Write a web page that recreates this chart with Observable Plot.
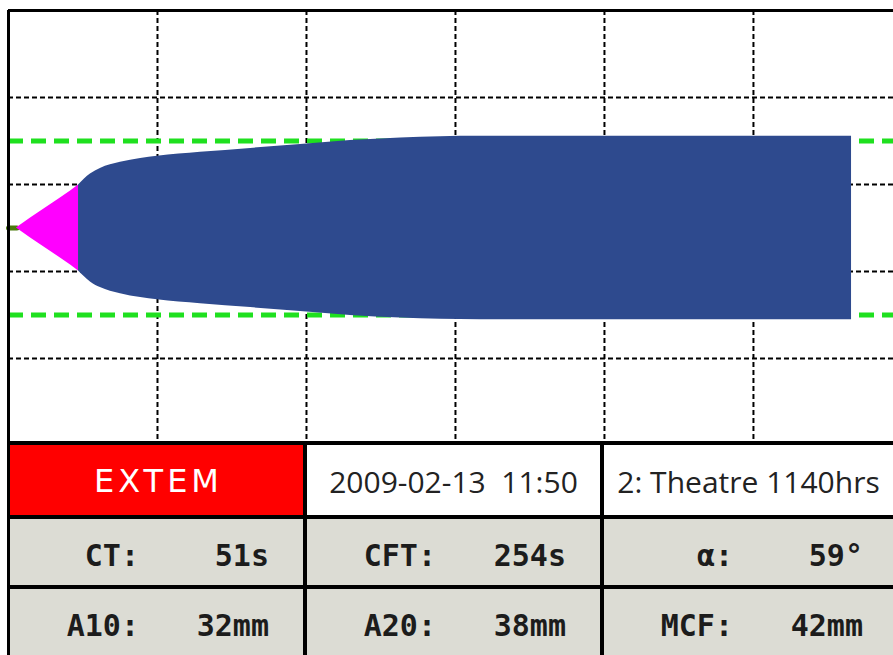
<!DOCTYPE html>
<html>
<head>
<meta charset="utf-8">
<script src="https://cdn.jsdelivr.net/npm/d3@7"></script>
<script src="https://cdn.jsdelivr.net/npm/@observablehq/plot@0.6"></script>
<style>
  html, body { margin: 0; padding: 0; background: #fff; }
  #wrap { position: relative; width: 893px; height: 655px; overflow: hidden; background: #fff; }
  #chart { position: absolute; left: 0; top: 0; }
  #table { position: absolute; left: 7px; top: 441px; width: 886px; height: 214px; background: #000; }
  .cell { position: absolute; overflow: hidden; }
  .head { font-family: "Open Sans", sans-serif; font-size: 30px; line-height: 30px; color: #222; text-align: center; white-space: pre; }
  .mono { position: absolute; font-family: "DejaVu Sans Mono", monospace; font-weight: bold; font-size: 30px; line-height: 30px; color: #1c1c1c; text-align: right; white-space: pre; }
</style>
</head>
<body>
<div id="wrap">
  <div id="chart"></div>
  <div id="table"></div>
</div>
<script>
// ---- trace data (time in seconds, half-amplitude in mm) ----
const baselineTime = [0, 34];
const baselineAmp = [0, 0];

const cfTime = [32, 89, 149, 209, 250, 282];
const cfAmp  = [0, 2.3, 4.6, 6.9, 8.5, 9.9];

const clotTime = [282, 330, 370, 451, 532, 600, 773, 975, 1176, 1377, 1579, 1901, 2384, 3395];
const clotAmp  = [9.9, 12.4, 13.7, 15.1, 16.0, 16.5, 17.4, 18.3, 19.2, 20.1, 20.7, 21.1, 21.1, 21.1];

// grid and reference lines
const gridTimes = [600, 1200, 1800, 2400, 3000];
const gridAmps = [-30, -10, 10, 30];
const refAmps = [-20, 20];

// ---- table texts ----
const headerTexts = ["EXTEM", "2009-02-13  11:50", "2: Theatre 1140hrs"];
const paramLabels = [["CT:", "CFT:", "α:"], ["A10:", "A20:", "MCF:"]];
const paramValues = [["51s", "254s", "59°"], ["32mm", "38mm", "42mm"]];

const baseline = baselineTime.map((t, i) => ({t, a: baselineAmp[i]}));
const cf = cfTime.map((t, i) => ({t, a: cfAmp[i]}));
const clot = clotTime.map((t, i) => ({t, a: clotAmp[i]}));

const chart = Plot.plot({
  width: 893,
  height: 445,
  marginLeft: 8,
  marginRight: 0,
  marginTop: 10,
  marginBottom: 0,
  x: {domain: [0, 3564], axis: null},
  y: {domain: [-50, 50], axis: null},
  style: {background: "#fff"},
  marks: [
    Plot.gridX(gridTimes, {stroke: "#000", strokeOpacity: 1, strokeWidth: 2, strokeDasharray: "5,3"}),
    Plot.gridY(gridAmps, {stroke: "#000", strokeOpacity: 1, strokeWidth: 2, strokeDasharray: "5,3"}),
    Plot.ruleY(refAmps, {stroke: "#1fe01f", strokeWidth: 5, strokeDasharray: "15,8"}),
    Plot.line(baseline, {x: "t", y: "a", stroke: "#4a7a0c", strokeWidth: 5}),
    Plot.areaY(cf, {x: "t", y1: d => -d.a, y2: d => d.a, fill: "#ff00ff", curve: "monotone-x"}),
    Plot.areaY(clot, {x: "t", y1: d => -d.a, y2: d => d.a, fill: "#2e4a8e", curve: "monotone-x"}),
    Plot.ruleX([0], {stroke: "#000", strokeWidth: 3}),
    Plot.ruleY([50], {stroke: "#000", strokeWidth: 3})
  ]
});
document.getElementById("chart").appendChild(chart);

// ---- table ----
const table = document.getElementById("table");
const colX = [3, 300, 597];       // relative to table left (7px)
const colW = [293, 293, 289];
const rowY = [4, 78, 148];        // relative to table top (441px)
const rowH = [70, 66, 66];

headerTexts.forEach((txt, c) => {
  const d = document.createElement("div");
  d.className = "cell head";
  Object.assign(d.style, {left: colX[c] + "px", top: rowY[0] + "px", width: colW[c] + "px", height: rowH[0] + "px",
    background: c === 0 ? "#ff0000" : "#ffffff"});
  const s = document.createElement("div");
  s.textContent = txt;
  Object.assign(s.style, {position: "absolute", left: "0", width: "100%", top: "22px"});
  if (c === 0) {
    s.style.color = "#fff";
    s.style.fontFamily = "'DejaVu Sans', sans-serif";
    s.style.fontSize = "32px";
    s.style.lineHeight = "32px";
    s.style.letterSpacing = "4px";
    s.style.textIndent = "4px";
    s.style.top = "20px";
  }
  d.appendChild(s);
  table.appendChild(d);
});

for (let r = 0; r < 2; r++) {
  for (let c = 0; c < 3; c++) {
    const d = document.createElement("div");
    d.className = "cell";
    Object.assign(d.style, {left: colX[c] + "px", top: rowY[r + 1] + "px", width: colW[c] + "px", height: rowH[r + 1] + "px", background: "#dcdcd4"});
    const l = document.createElement("div");
    l.className = "mono";
    l.textContent = paramLabels[r][c];
    Object.assign(l.style, {left: "0", width: "129px", top: "22px"});
    const v = document.createElement("div");
    v.className = "mono";
    v.textContent = paramValues[r][c];
    Object.assign(v.style, {left: "0", width: "259px", top: "22px"});
    d.appendChild(l);
    d.appendChild(v);
    table.appendChild(d);
  }
}
</script>
</body>
</html>
